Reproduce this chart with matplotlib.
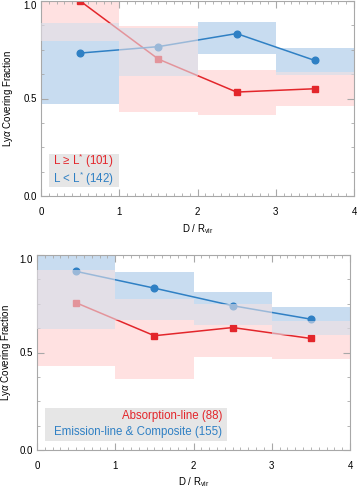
import matplotlib
matplotlib.use("Agg")
import matplotlib.pyplot as plt
from matplotlib.patches import Rectangle
from matplotlib.ticker import MultipleLocator, FormatStrFormatter
import numpy as np

plt.rcParams['font.family'] = ['Liberation Sans', 'DejaVu Sans']
plt.rcParams['mathtext.fontset'] = 'custom'
plt.rcParams['mathtext.rm'] = 'Liberation Sans'
plt.rcParams['mathtext.it'] = 'Liberation Sans:italic'
plt.rcParams['mathtext.bf'] = 'Liberation Sans:bold'

# ---------------- data ----------------
bin_edges = [0, 1, 2, 3, 4]
bin_centers = [0.5, 1.5, 2.5, 3.5]

# top panel: luminosity split
top_red_y = [1.00, 0.702, 0.533, 0.550]
top_red_lo = [0.797, 0.432, 0.415, 0.459]
top_red_hi = [1.02, 0.872, 0.647, 0.635]
top_blue_y = [0.733, 0.766, 0.833, 0.695]
top_blue_lo = [0.471, 0.613, 0.729, 0.618]
top_blue_hi = [0.886, 0.859, 0.894, 0.760]
top_labels = ["L \u2265 L$^{*}$ (101)", "L < L$^{*}$ (142)"]

# bottom panel: spectral type split
bot_red_y = [0.755, 0.586, 0.628, 0.572]
bot_red_lo = [0.431, 0.365, 0.476, 0.469]
bot_red_hi = [0.924, 0.776, 0.750, 0.664]
bot_blue_y = [0.916, 0.830, 0.740, 0.671]
bot_blue_lo = [0.620, 0.668, 0.642, 0.592]
bot_blue_hi = [1.02, 0.914, 0.810, 0.734]
bot_labels = ["Absorption-line (88)", "Emission-line & Composite (155)"]

x_ticks = [0, 1, 2, 3, 4]
y_ticks = [0.0, 0.5, 1.0]
xlabel = "D / R$_{\\rm vir}$"
ylabel = "Ly$\\it{\\alpha}$ Covering Fraction"

RED = '#E3262B'
BLUE = '#2F80C4'
PINK = '#FFE1E1'
LBLUE = '#C8DCF0'
LAV = '#E3DFE7'
FRAME = '#A8A8A8'

fig = plt.figure(figsize=(3.57, 4.88), dpi=100)
ax1 = fig.add_axes([41/357, 1-196/488, 313/357, 195/488])
ax2 = fig.add_axes([37/357, 1-450/488, 313/357, 195/488])


def draw_panel(ax, ry, rlo, rhi, by, blo, bhi, labels, box, xl_y, yl_x):
    rlo, rhi, blo, bhi = map(np.array, (rlo, rhi, blo, bhi))
    ax.bar(bin_centers, rhi - rlo, bottom=rlo, width=1.0, color=PINK,
           linewidth=0, zorder=1)
    ax.bar(bin_centers, bhi - blo, bottom=blo, width=1.0, color=LBLUE,
           linewidth=0, zorder=1.1)
    olo = np.maximum(rlo, blo)
    ohi = np.minimum(rhi, bhi)
    oh = np.clip(ohi - olo, 0, None)
    ax.bar(bin_centers, oh, bottom=olo, width=1.0, color=LAV,
           linewidth=0, zorder=1.2)
    ax.plot(bin_centers, ry, '-s', color=RED, lw=1.1, ms=4.4, zorder=2)
    ax.plot(bin_centers, by, '-o', color=BLUE, lw=1.1, ms=4.8, zorder=2)
    # translucent overlap drawn over the lines (fades them)
    ax.bar(bin_centers, oh, bottom=olo, width=1.0, color=LAV, alpha=0.6,
           linewidth=0, zorder=3)

    ax.set_xlim(0, 4)
    ax.set_ylim(0, 1.0)
    ax.set_xticks(x_ticks)
    ax.set_yticks(y_ticks)
    ax.xaxis.set_minor_locator(MultipleLocator(0.1))
    ax.yaxis.set_minor_locator(MultipleLocator(0.125))
    ax.xaxis.set_major_formatter(FormatStrFormatter('%g'))
    ax.yaxis.set_major_formatter(FormatStrFormatter('%.1f'))
    ax.tick_params(which='both', direction='in', top=True, right=True,
                   color=FRAME, labelsize=7)
    ax.tick_params(which='major', length=5, width=0.8)
    ax.tick_params(which='minor', length=2.5, width=0.6)
    ax.tick_params(axis='x', which='both', pad=8)
    ax.tick_params(axis='y', which='both', pad=3)
    ax.yaxis.get_major_ticks()[-1].label1.set_verticalalignment('top')
    for s in ax.spines.values():
        s.set_color(FRAME)
        s.set_linewidth(0.8)
    ax.set_xlabel(xlabel, fontsize=7)
    ax.set_ylabel(ylabel, fontsize=7)
    ax.xaxis.set_label_coords(0.5, xl_y)
    ax.yaxis.set_label_coords(yl_x, 0.5)

    x0, x1, y0, y1, xt, yt1, yt2 = box
    ax.add_patch(Rectangle((x0, y0), x1 - x0, y1 - y0, transform=ax.transAxes,
                           facecolor='#E6E6E6', edgecolor='none', zorder=4))
    ax.text(xt, yt1, labels[0], color=RED, fontsize=8.3, ha='right',
            va='center', transform=ax.transAxes, zorder=5)
    ax.text(xt, yt2, labels[1], color=BLUE, fontsize=8.3, ha='right',
            va='center', transform=ax.transAxes, zorder=5)


draw_panel(ax1, top_red_y, top_red_lo, top_red_hi, top_blue_y, top_blue_lo,
           top_blue_hi, top_labels,
           (0.0256, 0.249, 0.046, 0.217, 0.233, 0.178, 0.090), -0.133, -0.083)
draw_panel(ax2, bot_red_y, bot_red_lo, bot_red_hi, bot_blue_y, bot_blue_lo,
           bot_blue_hi, bot_labels,
           (0.0256, 0.607, 0.046, 0.215, 0.591, 0.176, 0.094), -0.128, -0.078)

fig.savefig('out.png', dpi=100)
